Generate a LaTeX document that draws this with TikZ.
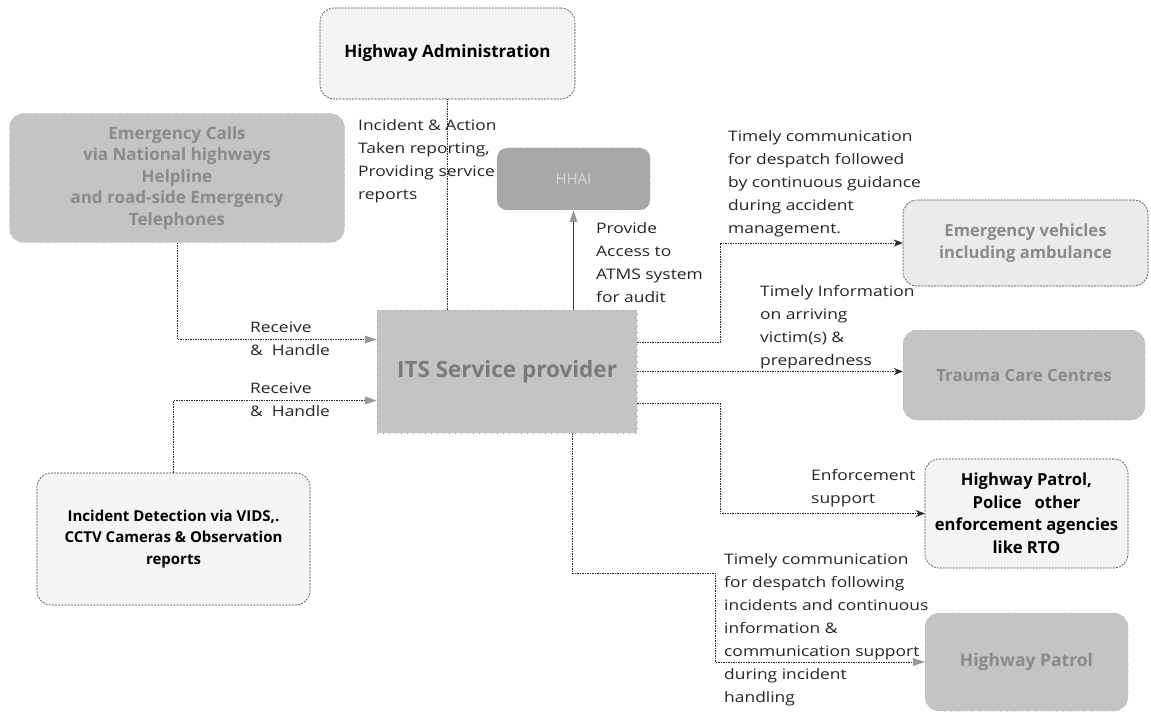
\documentclass[tikz,border=0pt]{standalone}
\usepackage{fontspec}
\setmainfont{Open Sans}
\newfontfamily\lblfont[FakeStretch=1.2]{Open Sans}
\usetikzlibrary{arrows.meta}
\definecolor{boxgray}{HTML}{C4C4C4}
\definecolor{boxdark}{HTML}{A8A8A8}
\definecolor{boxlight}{HTML}{F4F4F4}
\definecolor{boxev}{HTML}{EBEBEB}
\definecolor{txtgray}{HTML}{8A8A8A}
\definecolor{txtits}{HTML}{7A7A7A}
\definecolor{txthhai}{HTML}{D6D6D6}
\newcommand{\bfs}[2]{\fontsize{#1}{#2}\selectfont\bfseries}
\tikzset{
  graybox/.style={rectangle, rounded corners=14pt, fill=boxgray, draw=boxgray!80!black, dash pattern=on 1pt off 6pt, line width=0.5pt, align=center, text=txtgray},
  lightbox/.style={rectangle, rounded corners=14pt, fill=boxlight, draw=black!75, dash pattern=on 2pt off 1.2pt, line width=0.6pt, align=center, text=black},
  lbl/.style={font=\lblfont\fontsize{14.5}{23}\selectfont, align=left, inner sep=0pt, anchor=west, text=black!85},
  conn/.style={draw=black!85, line width=0.6pt, dash pattern=on 1.5pt off 1pt},
  garrow/.style={-{Triangle[length=12pt,width=8pt,color=black!40]}},
  barrow/.style={-{Stealth[length=9pt,width=7pt]}}
}
\begin{document}
\begin{tikzpicture}[x=1pt,y=-1pt]
\useasboundingbox (0,0) rectangle (1151,722);
\fill[white] (0,0) rectangle (1151,722);

% boxes
\node[lightbox, minimum width=255pt, minimum height=91pt, font=\bfs{17}{22}] (ha) at (447.5,53.5) {Highway Administration};
\node[graybox, minimum width=335pt, minimum height=129pt, font=\bfs{17}{21.5}] (calls) at (177,178) {Emergency Calls\\via National highways\\Helpline\\and road-side Emergency\\Telephones};
\node[graybox, fill=boxdark, rounded corners=10pt, minimum width=153pt, minimum height=62pt, text=txthhai, font=\fontsize{15}{18}\selectfont] (hhai) at (573.5,179) {HHAI};
\node[rectangle, fill=boxgray, draw=boxgray!80!black, dash pattern=on 1pt off 5pt, line width=0.5pt, minimum width=260pt, minimum height=123pt, text=txtits, font=\bfs{22.5}{26}] (its) at (507,371.5) {ITS Service provider};
\node[lightbox, fill=boxev, text=txtgray, minimum width=245pt, minimum height=86pt, font=\bfs{16.6}{22}] (ev) at (1025.5,243) {Emergency vehicles\\including ambulance};
\node[graybox, minimum width=242pt, minimum height=90pt, font=\bfs{16.8}{22}] (trauma) at (1024,375) {Trauma Care Centres};
\node[lightbox, minimum width=203pt, minimum height=109pt, font=\bfs{16.6}{22.5}] (hpp) at (1026.5,513.5) {Highway Patrol,\\Police~~~other\\enforcement agencies\\like RTO};
\node[graybox, minimum width=203pt, minimum height=98pt, font=\bfs{17.5}{22}] (patrol) at (1026.5,662) {Highway Patrol};
\node[lightbox, fill=white!96!black, minimum width=273pt, minimum height=132pt, font=\bfs{15}{21.5}] (inc) at (173.5,539) {Incident Detection via VIDS,.\\CCTV Cameras \& Observation\\reports};

% helper coordinates
\coordinate (bx) at (720,0);
\coordinate (cx) at (715,573);

% connectors
\draw[conn, garrow] (calls.south) |- ([yshift=32pt]its.west);
\draw[conn, garrow] (inc.north) |- ([yshift=-29pt]its.west);
\draw[conn] (ha.south |- its.north) -- (ha.south);
\draw[draw=black!80, line width=0.7pt, garrow] (hhai.south |- its.north) -- (hhai.south);
\draw[conn, barrow] ([yshift=29pt]its.east) -| (bx |- ev.west) -- (ev.west);
\draw[conn, barrow] (its.east) -- (its.east -| trauma.west);
\draw[conn, barrow] ([yshift=-32pt]its.east) -| (bx |- hpp.west) -- (hpp.west);
\draw[conn, garrow] ([xshift=65pt]its.south) |- (cx) |- (patrol.west);

% labels
\node[lbl] (l1) at (250,338.5) {Receive\\\&~~Handle};
\node[lbl] (l2) at (250,400) {Receive\\\&~~Handle};
\node[lbl] (l3) at (358,161.5) {Incident \& Action\\Taken reporting,\\Providing service\\reports};
\node[lbl] (l4) at (596,263) {Provide\\Access to\\ATMS system\\for audit};
\node[lbl] (l5) at (728,183.5) {Timely communication\\for despatch followed\\by continuous guidance\\during accident\\management.};
\node[lbl] (l6) at (760,327) {Timely Information\\on arriving\\victim(s) \&\\preparedness};
\node[lbl] (l7) at (811,488.5) {Enforcement\\support};
\node[lbl] (l8) at (724,630) {Timely communication\\for despatch following\\incidents and continuous\\information \&\\communication support\\during incident\\handling};
\end{tikzpicture}
\end{document}
